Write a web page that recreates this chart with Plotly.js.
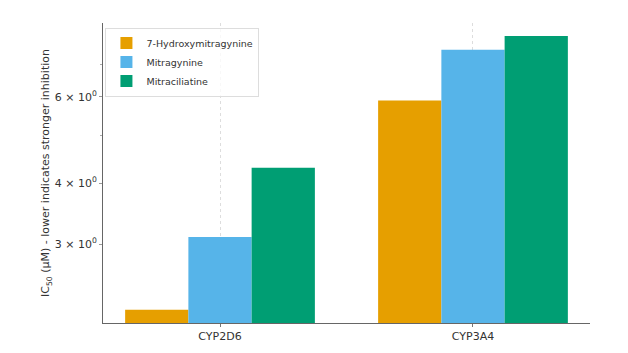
<!DOCTYPE html>
<html>
<head>
<meta charset="utf-8">
<script src="https://cdn.plot.ly/plotly-3.0.1.min.js"></script>
<style>html,body{margin:0;padding:0;background:#fff;}#chart{width:628px;height:353px;}</style>
</head>
<body>
<div id="chart"></div>
<script>
const categories = ["CYP2D6", "CYP3A4"];
const seriesNames = ["7-Hydroxymitragynine", "Mitragynine", "Mitraciliatine"];
const hydroxyValues = [2.2, 5.9];
const mitragynineValues = [3.1, 7.5];
const mitraciliatineValues = [4.3, 8.0];
const yTickVals = [3, 4, 6];
const yTickText = ["3 × 10<sup>0</sup>", "4 × 10<sup>0</sup>", "6 × 10<sup>0</sup>"];
const yMinorVals = [5, 7];
const colors = ["#E69F00", "#56B4E9", "#009E73"];

const allValues = [hydroxyValues, mitragynineValues, mitraciliatineValues];
const traces = allValues.map((vals, i) => ({
  type: "bar",
  name: seriesNames[i],
  x: categories,
  y: vals,
  marker: {color: colors[i], line: {width: 0}},
  hoverinfo: "none"
}));

const layout = {
  width: 628, height: 353,
  margin: {l: 103, r: 38, t: 23, b: 30},
  paper_bgcolor: "#fff", plot_bgcolor: "#fff",
  font: {family: "DejaVu Sans, sans-serif", size: 11, color: "#333"},
  barmode: "group", bargap: 0.25, bargroupgap: 0,
  showlegend: true,
  legend: {
    x: 0.005, y: 0.985, xanchor: "left", yanchor: "top",
    bgcolor: "rgba(255,255,255,0.8)", bordercolor: "#ddd", borderwidth: 1,
    font: {size: 9.5, color: "#333"}, tracegroupgap: 0, itemwidth: 30
  },
  xaxis: {
    type: "category", range: [-0.4625, 1.4625],
    showline: true, linecolor: "#666", linewidth: 1,
    ticks: "outside", ticklen: 3, tickcolor: "#777",
    showgrid: true, gridcolor: "#ddd", griddash: "dot", gridwidth: 1,
    tickfont: {size: 11, color: "#333"}, zeroline: false
  },
  yaxis: {
    type: "log", range: [0.3155, 0.9296],
    showline: true, linecolor: "#666", linewidth: 1,
    ticks: "outside", ticklen: 3, tickcolor: "#999",
    tickmode: "array", tickvals: yTickVals, ticktext: yTickText,
    showgrid: false, zeroline: false,
    tickfont: {size: 11, color: "#333"},
    minor: {tickmode: "array", tickvals: yMinorVals, ticks: "outside", ticklen: 2, tickcolor: "#aaa", showgrid: false},
    title: {text: "IC<sub>50</sub> (µM) - lower indicates stronger inhibition", font: {size: 11, color: "#333"}, standoff: 2}
  }
};

Plotly.newPlot("chart", traces, layout, {displayModeBar: false, staticPlot: true});
</script>
</body>
</html>
